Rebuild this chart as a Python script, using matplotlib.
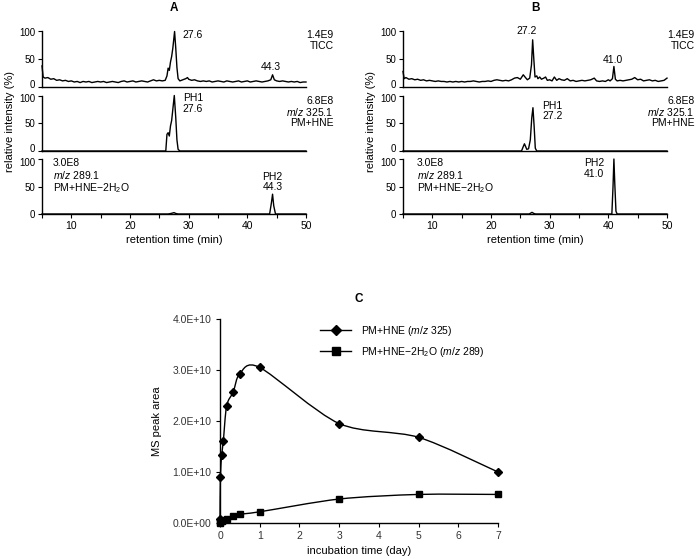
import numpy as np
import matplotlib
matplotlib.use('Agg')
import matplotlib.pyplot as plt
from matplotlib.path import Path
from matplotlib.patches import PathPatch
from matplotlib.transforms import ScaledTranslation

plt.rcParams['font.family'] = ['Liberation Sans', 'DejaVu Sans']
plt.rcParams['font.size'] = 7.5
plt.rcParams['mathtext.fontset'] = 'custom'
plt.rcParams['mathtext.rm'] = 'Liberation Sans'
plt.rcParams['mathtext.it'] = 'Liberation Sans:italic'

# ----- chromatogram data (retention time in min, relative intensity in %) -----
a_tic_t = [5.0, 5.2, 5.5, 6.0, 6.5, 7.0, 7.5, 8.0, 8.5, 9.0, 9.5, 10.0, 10.5, 11.0, 11.5,
           12.0, 12.5, 13.0, 13.5, 14.0, 14.5, 15.0, 15.5, 16.0, 16.5, 17.0, 17.5, 18.0,
           18.5, 19.0, 19.5, 20.0, 20.5, 21.0, 21.5, 22.0, 22.5, 23.0, 23.5, 24.0, 24.5,
           25.0, 25.5, 26.0, 26.3, 26.5, 26.7, 26.9, 27.1, 27.3, 27.6, 27.8, 28.0, 28.2,
           28.5, 29.0, 29.5, 29.8, 30.0, 30.5, 31.0, 31.5, 32.0, 32.5, 33.0, 33.5, 34.0,
           34.5, 35.0, 35.5, 36.0, 36.5, 37.0, 37.5, 38.0, 38.5, 39.0, 39.5, 40.0, 40.5,
           41.0, 41.5, 42.0, 42.5, 43.0, 43.5, 44.0, 44.3, 44.6, 45.0, 45.5, 46.0, 46.5,
           47.0, 47.5, 48.0, 48.5, 49.0, 49.5, 50.0]
a_tic_y = [38, 18, 16, 17, 14, 15, 12, 13, 11, 12, 10, 11, 9, 10, 8,
           10, 9, 10, 8, 9, 10, 9, 10, 8, 9, 10, 9, 8,
           10, 11, 9, 10, 11, 9, 10, 11, 10, 9, 11, 13, 11,
           12, 11, 12, 20, 34, 30, 45, 55, 70, 100, 70, 35, 15,
           11, 13, 15, 17, 14, 12, 13, 11, 10, 11, 10, 11, 9,
           10, 11, 10, 9, 11, 10, 9, 10, 11, 9, 10, 11, 9,
           10, 11, 10, 9, 10, 11, 13, 22, 13, 11, 10, 11, 10,
           9, 10, 9, 10, 8, 9, 9]

a_325_t = [5.0, 26.1, 26.3, 26.5, 26.7, 26.9, 27.1, 27.3, 27.55, 27.8, 28.0, 28.2, 28.5, 50.0]
a_325_y = [0, 0, 30, 33, 27, 45, 55, 75, 100, 60, 20, 3, 0, 0]

a_289_t = [5.0, 26.5, 27.0, 27.5, 27.8, 28.2, 43.8, 44.1, 44.3, 44.5, 44.8, 50.0]
a_289_y = [0, 0, 1, 2.5, 1, 0, 0, 20, 36, 15, 0, 0]

b_tic_t = [5.0, 5.2, 5.5, 6.0, 6.5, 7.0, 7.5, 8.0, 8.5, 9.0, 9.5, 10.0, 10.5, 11.0, 11.5,
           12.0, 12.5, 13.0, 13.5, 14.0, 14.5, 15.0, 15.5, 16.0, 16.5, 17.0, 17.5, 18.0,
           18.5, 19.0, 19.5, 20.0, 20.5, 21.0, 21.5, 22.0, 22.5, 23.0, 23.5, 24.0, 24.5,
           25.0, 25.5, 25.8, 26.2, 26.6, 26.9, 27.1, 27.3, 27.5, 27.8, 28.0, 28.3, 28.6,
           29.0, 29.3, 29.6, 30.0, 30.4, 30.8, 31.2, 31.6, 32.0, 32.5, 33.0, 33.5, 34.0,
           34.5, 35.0, 35.5, 36.0, 36.5, 37.0, 37.6, 38.0, 38.5, 39.0, 39.5, 40.0, 40.3,
           40.7, 40.95, 41.2, 41.5, 42.0, 42.5, 43.0, 43.5, 44.0, 44.5, 45.0, 45.5, 46.0,
           46.5, 47.0, 47.5, 48.0, 48.5, 49.0, 49.5, 50.0]
b_tic_y = [28, 15, 17, 14, 15, 13, 14, 12, 13, 11, 12, 11, 10, 11, 10,
           10, 9, 10, 9, 10, 9, 10, 9, 10, 10, 11, 10, 9,
           10, 10, 11, 10, 12, 13, 12, 11, 12, 11, 13, 16, 17,
           14, 22, 18, 13, 16, 40, 85, 50, 18, 20, 15, 18, 14,
           16, 18, 12, 13, 11, 18, 12, 15, 13, 12, 15, 11, 12,
           10, 11, 12, 11, 12, 13, 16, 11, 10, 11, 10, 13, 11,
           15, 37, 14, 11, 12, 11, 12, 13, 14, 17, 13, 14, 11,
           12, 13, 11, 12, 10, 11, 12, 16]

b_325_t = [5.0, 25.2, 25.5, 25.7, 25.9, 26.1, 26.4, 26.7, 26.95, 27.15, 27.35, 27.55, 27.8, 50.0]
b_325_y = [0, 0, 8, 13, 8, 3, 4, 20, 60, 78, 45, 5, 0, 0]

b_289_t = [5.0, 26.5, 27.0, 27.3, 27.6, 40.6, 40.8, 40.95, 41.1, 41.3, 41.5, 50.0]
b_289_y = [0, 0, 3, 1, 0, 0, 50, 100, 55, 5, 0, 0]

# ----- time course data (incubation time in day, MS peak area) -----
days = [0, 0.0104, 0.042, 0.083, 0.167, 0.333, 0.5, 1, 3, 5, 7]
area_325 = [0.07e10, 0.90e10, 1.33e10, 1.60e10, 2.30e10, 2.57e10, 2.93e10, 3.05e10,
            1.95e10, 1.68e10, 1.00e10]
area_289 = [0.00e10, 0.02e10, 0.03e10, 0.05e10, 0.07e10, 0.13e10, 0.17e10, 0.22e10,
            0.47e10, 0.56e10, 0.56e10]

W, H = 696, 559
fig = plt.figure(figsize=(W / 100, H / 100), dpi=100)


def px_axes(left, top, right, bottom):
    return fig.add_axes([left / W, 1 - bottom / H, (right - left) / W, (bottom - top) / H])


def style_trace_axes(ax, show_x):
    for s in ('top', 'right'):
        ax.spines[s].set_visible(False)
    for s in ('left', 'bottom'):
        ax.spines[s].set_linewidth(1.0)
    ax.set_xlim(5, 50)
    ax.set_ylim(0, 100)
    ax.set_yticks([0, 50, 100])
    ax.tick_params(axis='y', direction='out', length=3, width=0.8, pad=2, labelsize=7)
    if show_x:
        ax.set_xticks(range(5, 51, 5))
        ax.set_xticklabels(['' if v % 10 else str(v) for v in range(5, 51, 5)])
        ax.tick_params(axis='x', direction='out', length=3, width=0.8, pad=2, labelsize=7.5)
    else:
        ax.set_xticks([])


rows = [(31.5, 87), (95.5, 151), (159, 214)]
panels = [
    ('A', 42, 306, [(a_tic_t, a_tic_y), (a_325_t, a_325_y), (a_289_t, a_289_y)]),
    ('B', 403, 667, [(b_tic_t, b_tic_y), (b_325_t, b_325_y), (b_289_t, b_289_y)]),
]
axes = {}
for name, left, right, traces in panels:
    axs = []
    for i, ((top, bot), (t, y)) in enumerate(zip(rows, traces)):
        ax = px_axes(left, top, right, bot)
        ax.plot(t, y, color='black', lw=1.0, clip_on=False)
        style_trace_axes(ax, i == 2)
        axs.append(ax)
    axs[2].set_xlabel('retention time (min)', fontsize=8, labelpad=3)
    fig.text((left + right) / 2 / W, 1 - 8 / H, name, ha='center', va='center',
             fontsize=8.5, fontweight='bold')
    fig.text((left - 32) / W, 1 - 122 / H, 'relative intensity (%)', rotation=90,
             ha='center', va='center', fontsize=8)
    # stacked axes: nudge the touching 0 / 100 tick labels apart a little
    up = ScaledTranslation(0, 2.5 / 100, fig.dpi_scale_trans)
    down = ScaledTranslation(0, -2.5 / 100, fig.dpi_scale_trans)
    for ax in axs[:2]:
        lbl = ax.get_yticklabels()[0]
        lbl.set_transform(lbl.get_transform() + up)
    for ax in axs[1:]:
        lbl = ax.get_yticklabels()[2]
        lbl.set_transform(lbl.get_transform() + down)
    axes[name] = axs

right_frac = 1.104
mz_325 = '6.8E8\n$\\it{m/z}$ 325.1\nPM+HNE'
mz_289 = '3.0E8\n$\\it{m/z}$ 289.1\nPM+HNE\u22122H$_2$O'
for name in ('A', 'B'):
    ax0, ax1, ax2 = axes[name]
    ax0.text(right_frac, 1.02, '1.4E9\nTICC', transform=ax0.transAxes, ha='right',
             va='top', multialignment='right', linespacing=1.05)
    ax1.text(right_frac, 1.0, mz_325, transform=ax1.transAxes, ha='right',
             va='top', multialignment='right', linespacing=1.05)

# panel A annotations
axA = axes['A']
axA[0].text(29.0, 93, '27.6', ha='left', va='center')
axA[0].text(44.0, 36, '44.3', ha='center', va='center')
axA[1].text(29.0, 104, 'PH1\n27.6', ha='left', va='top', linespacing=1.05)
axA[2].text(6.9, 101, mz_289, ha='left', va='top', linespacing=1.05)
axA[2].text(44.3, 40, 'PH2\n44.3', ha='center', va='bottom', linespacing=1.05)

# panel B annotations
axB = axes['B']
axB[0].text(26.1, 101, '27.2', ha='center', va='center')
axB[0].text(40.8, 49, '41.0', ha='center', va='center')
axB[1].text(28.7, 90, 'PH1\n27.2', ha='left', va='top', linespacing=1.05)
axB[2].text(7.4, 101, mz_289, ha='left', va='top', linespacing=1.05)
axB[2].text(37.6, 101, 'PH2\n41.0', ha='center', va='top', linespacing=1.05)


# ----- panel C -----
def smooth_path(x, y, k=7.0):
    pts = np.column_stack([x, y]).astype(float)
    n = len(pts)
    verts = [pts[0]]
    codes = [Path.MOVETO]
    for i in range(n - 1):
        p_prev = pts[i - 1] if i > 0 else pts[i]
        p_next = pts[i + 2] if i + 2 < n else pts[i + 1]
        c1 = pts[i] + (pts[i + 1] - p_prev) / k
        c2 = pts[i + 1] - (p_next - pts[i]) / k
        verts += [c1, c2, pts[i + 1]]
        codes += [Path.CURVE4] * 3
    return Path(verts, codes)


axC = px_axes(220, 319, 498, 523)
for y, mk, ms, lab in [(area_325, 'D', 4.5, 'PM+HNE ($\\it{m/z}$ 325)'),
                       (area_289, 's', 4.3, 'PM+HNE\u22122H$_2$O ($\\it{m/z}$ 289)')]:
    axC.add_patch(PathPatch(smooth_path(days, y), fill=False, edgecolor='black',
                            lw=1.0, clip_on=False))
    axC.plot(days, y, linestyle='none', marker=mk, ms=ms, color='black', clip_on=False)
    axC.plot([], [], '-', marker=mk, ms=ms + 1, color='black', lw=1.0, label=lab)

axC.set_xlim(0, 7)
axC.set_ylim(0, 4e10)
axC.set_xticks(range(0, 8))
axC.set_yticks([0, 1e10, 2e10, 3e10, 4e10])
axC.set_yticklabels(['{:.1E}'.format(v) for v in [0, 1e10, 2e10, 3e10, 4e10]])
for s in ('top', 'right'):
    axC.spines[s].set_visible(False)
for s in ('left', 'bottom'):
    axC.spines[s].set_linewidth(1.0)
axC.tick_params(direction='out', length=3, width=0.8, pad=3, labelcolor='#333333')
axC.set_xlabel('incubation time (day)', fontsize=8, labelpad=3)
axC.set_ylabel('MS peak area', fontsize=8, labelpad=8)
axC.set_title('C', fontsize=8.5, fontweight='bold', pad=12)
axC.legend(loc='upper left', bbox_to_anchor=(0.36, 0.975), frameon=False,
           handlelength=3.0, handletextpad=0.9, labelspacing=0.65, borderpad=0,
           borderaxespad=0)

fig.savefig('out.png', dpi=100)
